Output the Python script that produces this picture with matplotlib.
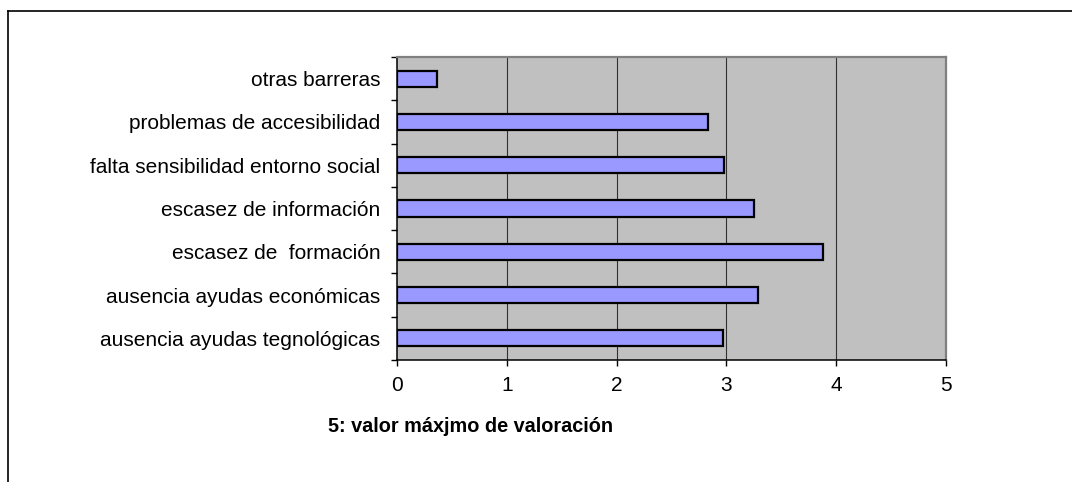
import matplotlib
matplotlib.use("Agg")
import matplotlib.pyplot as plt
from matplotlib.lines import Line2D

# data, bottom to top
categories = [
    "ausencia ayudas tegnológicas",
    "ausencia ayudas económicas",
    "escasez de  formación",
    "escasez de información",
    "falta sensibilidad entorno social",
    "problemas de accesibilidad",
    "otras barreras",
]
values = [2.97, 3.29, 3.88, 3.25, 2.98, 2.83, 0.36]
x_ticks = [0, 1, 2, 3, 4, 5]
x_label = "5: valor máxjmo de valoración"

plt.rcParams['font.family'] = ['Liberation Sans', 'DejaVu Sans']

W, H = 1072, 482
fig = plt.figure(figsize=(W / 100, H / 100), dpi=100)
ax = fig.add_axes([397 / W, 1 - 360 / H, (946 - 397) / W, (360 - 57) / H])

pos = list(range(len(categories)))
ax.barh(pos, values, height=0.37, color='#9999FF', edgecolor='black',
        linewidth=1.6, zorder=3)

ax.set_facecolor('#C0C0C0')
ax.set_xlim(0, 5)
ax.set_ylim(-0.5, len(categories) - 0.5)

ax.set_xticks(x_ticks)
ax.set_xticklabels([str(t) for t in x_ticks], fontsize=15)
ax.tick_params(axis='x', direction='out', length=4.6, width=1, pad=7, colors='black')

# labels at centres, tick marks between categories
ax.set_yticks(pos)
ax.set_yticklabels(categories, fontsize=15)
ax.tick_params(axis='y', which='major', length=0, pad=12)
ax.set_yticks([p - 0.5 for p in pos] + [len(pos) - 0.5], minor=True)
ax.tick_params(axis='y', which='minor', direction='out', length=4.6, width=1)

for v in x_ticks[1:-1]:
    ax.axvline(v, color='#303030', linewidth=0.8, zorder=1)

ax.spines['left'].set_color('black')
ax.spines['bottom'].set_color('black')
ax.spines['left'].set_linewidth(1.1)
ax.spines['bottom'].set_linewidth(1.1)
ax.spines['top'].set_color('#808080')
ax.spines['right'].set_color('#808080')
ax.spines['top'].set_linewidth(1.6)
ax.spines['right'].set_linewidth(1.6)

fig.text(328 / W, 1 - 426 / H, x_label, fontsize=14.3, fontweight='bold',
         ha='left', va='center')

# outer chart frame (cut off at the right and bottom)
fig.add_artist(Line2D([7.5 / W, 7.5 / W], [-0.05, 1 - 10.7 / H],
                      transform=fig.transFigure, color='black', linewidth=1.2))
fig.add_artist(Line2D([7.5 / W, 1.05], [1 - 10.7 / H, 1 - 10.7 / H],
                      transform=fig.transFigure, color='black', linewidth=1.2))

fig.savefig("out.png", dpi=100)
